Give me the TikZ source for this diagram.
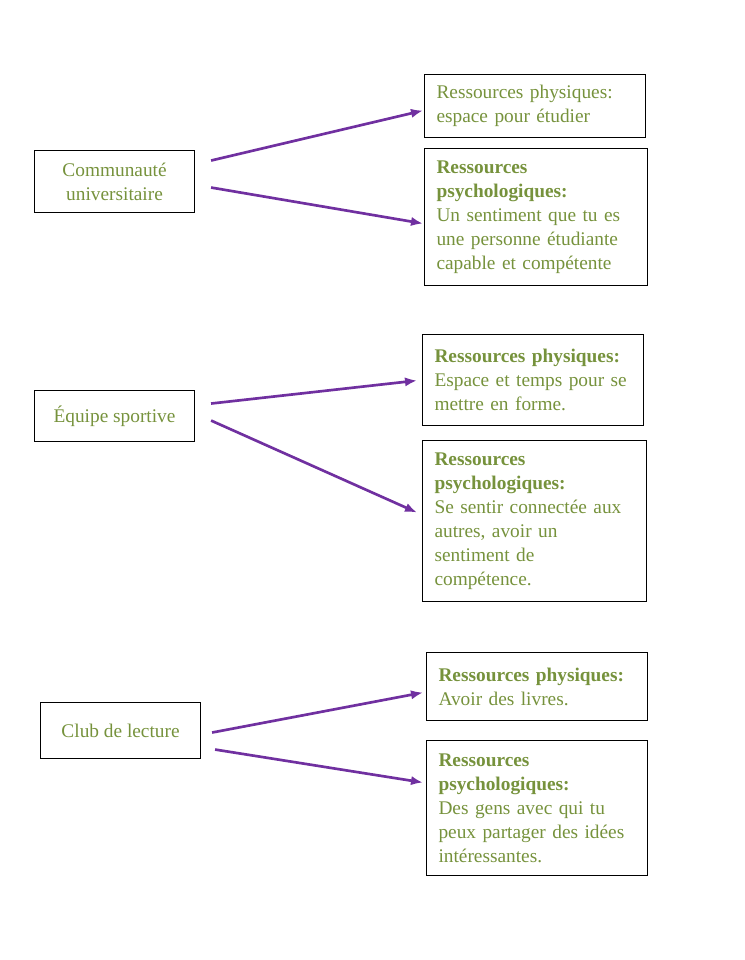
\documentclass[tikz,border=0pt]{standalone}
\usepackage{fontspec}
\setmainfont{Liberation Serif}
\usetikzlibrary{arrows.meta}
\definecolor{olive}{HTML}{76923C}
\definecolor{violet}{HTML}{7030A0}

\begin{document}
\begin{tikzpicture}[x=0.75pt,y=0.75pt,
    every node/.style={font=\fontsize{14.5}{18}\selectfont,text=olive},
    source/.style={draw,thick,anchor=north west,align=center,inner sep=0pt},
    ressource/.style={draw,thick,anchor=north west,align=left,inner xsep=9pt,inner ysep=0pt},
    fleche/.style={violet,line width=2pt,-{Latex[length=9pt,width=7pt]}}]
  \useasboundingbox (0,0) rectangle (744,-960);
  % premier groupe
  \node[source,minimum width=160*0.75pt,minimum height=62*0.75pt] (comm) at (34,-150) {Communauté\\universitaire};
  \node[ressource,text width=221*0.75pt-18pt,minimum height=63*0.75pt] (phys1) at (424,-74) {Ressources physiques:\\espace pour étudier};
  \node[ressource,text width=223*0.75pt-18pt,minimum height=137*0.75pt] (psy1) at (424,-148) {\textbf{Ressources}\\\textbf{psychologiques:}\\Un sentiment que tu es\\une personne étudiante\\capable et compétente};
  \draw[fleche] ([shift={(16,21)}]comm.east) -- ([shift={(-1,-4.5)}]phys1.west);
  \draw[fleche] ([shift={(16,-6)}]comm.east) -- ([shift={(-1,-6.5)}]psy1.west);
  % deuxieme groupe
  \node[source,minimum width=160*0.75pt,minimum height=51*0.75pt] (equipe) at (34,-390) {Équipe sportive};
  \node[ressource,text width=221*0.75pt-18pt,minimum height=91*0.75pt] (phys2) at (422,-334) {\textbf{Ressources physiques:}\\Espace et temps pour se\\mettre en forme.};
  \node[ressource,text width=224*0.75pt-18pt,minimum height=161*0.75pt] (psy2) at (422,-440) {\textbf{Ressources}\\\textbf{psychologiques:}\\Se sentir connectée aux\\autres, avoir un\\sentiment de\\compétence.};
  \draw[fleche] ([shift={(16,12.5)}]equipe.east) -- ([shift={(-5,-0.5)}]phys2.west);
  \draw[fleche] ([shift={(16,-4.5)}]equipe.east) -- ([shift={(-5,8.5)}]psy2.west);
  % troisieme groupe
  \node[source,minimum width=160*0.75pt,minimum height=56*0.75pt] (club) at (40,-702) {Club de lecture};
  \node[ressource,text width=221*0.75pt-18pt,minimum height=68*0.75pt] (phys3) at (426,-652) {\textbf{Ressources physiques:}\\Avoir des livres.};
  \node[ressource,text width=221*0.75pt-18pt,minimum height=135*0.75pt] (psy3) at (426,-740) {\textbf{Ressources}\\\textbf{psychologiques:}\\Des gens avec qui tu\\peux partager des idées\\intéressantes.};
  \draw[fleche] ([shift={(11,-2)}]club.east) -- ([shift={(-3,-6)}]phys3.west);
  \draw[fleche] ([shift={(14,-19)}]club.east) -- ([shift={(-3,25.5)}]psy3.west);
\end{tikzpicture}
\end{document}
